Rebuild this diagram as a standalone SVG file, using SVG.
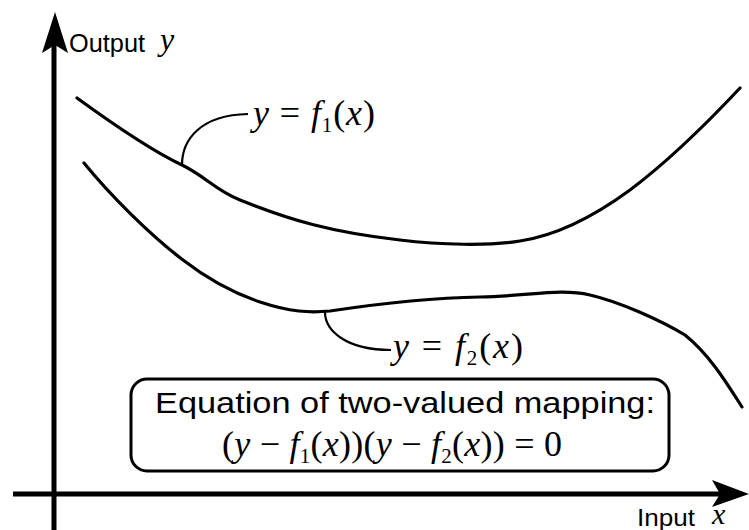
<svg xmlns="http://www.w3.org/2000/svg" width="749" height="530" viewBox="0 0 749 530">
<style>
.axis{stroke:#000;stroke-width:5;fill:none}
.curve{stroke:#000;stroke-width:3.2;fill:none;stroke-linecap:round}
.call{stroke:#000;stroke-width:2.2;fill:none}
.sans{font-family:"Liberation Sans",Arial,sans-serif;fill:#000}
.math{font-family:"Liberation Serif","Times New Roman",serif;font-style:italic;fill:#000}
.up{font-family:"Liberation Serif","Times New Roman",serif;font-style:normal}
</style>
<rect width="749" height="530" fill="#fff"/>
<g id="axes">
<line class="axis" x1="54" y1="45" x2="54" y2="530"/>
<polygon points="55,12 42,53 55,45 68,53" fill="#000"/>
<line class="axis" x1="13" y1="494" x2="720" y2="494"/>
<polygon points="749,494 712,480 720,494 712,507" fill="#000"/>
<text class="sans" x="69" y="52" font-size="25" textLength="76" lengthAdjust="spacingAndGlyphs">Output</text>
<text class="math" x="160" y="50" font-size="32">y</text>
<text class="sans" x="637" y="526" font-size="24" textLength="58" lengthAdjust="spacingAndGlyphs">Input</text>
<text class="math" x="712" y="524" font-size="30">x</text>
</g>
<g id="connectors">
<path class="call" d="M182,165 C182,140 200,115 248,114"/>
<path class="call" d="M325,312 C325,330 345,350 391,350"/>
</g>
<g id="f1">
<path class="curve" d="M77,98 C110,122 150,150 182,165 C205,176 215,190 240,200 C290,220 330,232 400,240 C440,245 490,246 520,241 C560,235 600,212 630,190 C670,160 710,120 740,88"/>
<text class="math" x="253" y="125" font-size="36" textLength="122" lengthAdjust="spacing">y <tspan class="up">=</tspan> f<tspan font-size="21" dy="7" class="up">1</tspan><tspan dy="-7" class="up">(</tspan>x<tspan class="up">)</tspan></text>
</g>
<g id="f2">
<path class="curve" d="M84,163 C110,195 150,235 183,260 C205,277 230,292 260,302 C290,312 310,313 330,311 C370,305 420,298 480,297 C530,296 560,288 590,295 C620,302 660,320 685,335 C710,355 728,385 742,407"/>
<text class="math" x="393" y="358" font-size="36" textLength="130" lengthAdjust="spacing">y <tspan class="up">=</tspan> f<tspan font-size="21" dy="7" class="up">2</tspan><tspan dy="-7" class="up">(</tspan>x<tspan class="up">)</tspan></text>
</g>
<g id="equation">
<rect x="131" y="379" width="538" height="92" rx="16" ry="16" fill="#fff" stroke="#000" stroke-width="3"/>
<text class="sans" x="155" y="413" font-size="30" textLength="500" lengthAdjust="spacingAndGlyphs">Equation of two-valued mapping:</text>
<text class="math" x="222" y="456" font-size="36" textLength="340" lengthAdjust="spacing"><tspan class="up">(</tspan>y <tspan class="up">−</tspan> f<tspan font-size="21" dy="7" class="up">1</tspan><tspan dy="-7" class="up">(</tspan>x<tspan class="up">))(</tspan>y <tspan class="up">−</tspan> f<tspan font-size="21" dy="7" class="up">2</tspan><tspan dy="-7" class="up">(</tspan>x<tspan class="up">)) = 0</tspan></text>
</g>
</svg>
